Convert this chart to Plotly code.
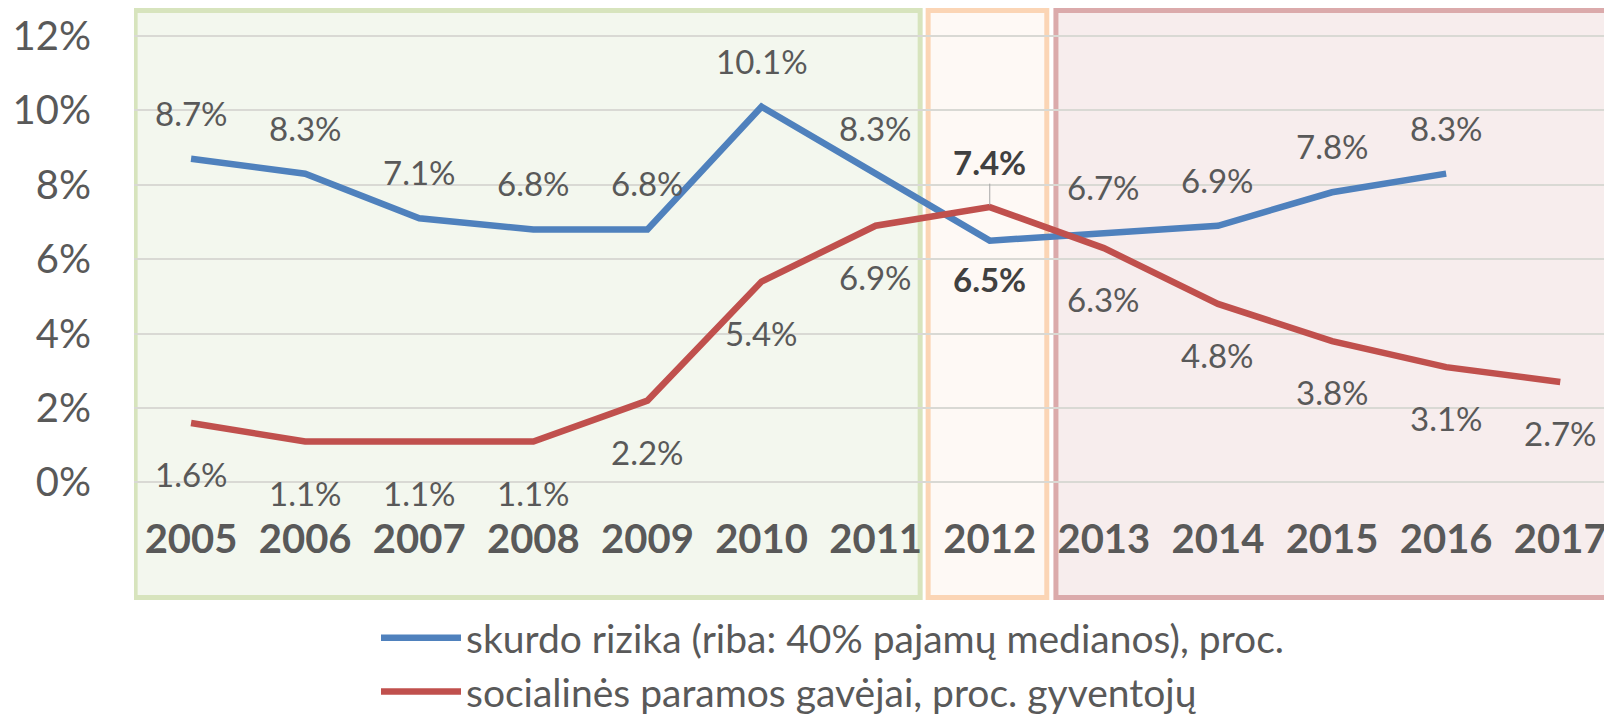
import plotly.graph_objects as go

# ---------------- data ----------------
years = ["2005", "2006", "2007", "2008", "2009", "2010", "2011",
         "2012", "2013", "2014", "2015", "2016", "2017"]
poverty_risk = [8.7, 8.3, 7.1, 6.8, 6.8, 10.1, 8.3, 6.5, 6.7, 6.9, 7.8, 8.3, None]
social_support = [1.6, 1.1, 1.1, 1.1, 2.2, 5.4, 6.9, 7.4, 6.3, 4.8, 3.8, 3.1, 2.7]
series_names = ["skurdo rizika (riba: 40% pajamų medianos), proc.",
                "socialinės paramos gavėjai, proc. gyventojų"]
y_tick_values = [0, 2, 4, 6, 8, 10, 12]
y_tick_labels = ["0%", "2%", "4%", "6%", "8%", "10%", "12%"]
highlight_year = "2012"

# ---------------- styles ----------------
FONT = "Lato"
TEXT = "#595959"
BLUE = "#4F81BD"
RED = "#C0504D"

OFF = 8  # page body margin offset of the rendered figure
W, H = 1612 - OFF, 718 - OFF
M_L, M_R, M_T, M_B = 134 - OFF, 0, 0, 0
plot_w = W - M_L - M_R
plot_h = H - M_T - M_B
px_per_pct = 37.2
zero_px = 482.5 - OFF
grid12_px = 36 - OFF
y_top = 12 + (grid12_px - M_T) / px_per_pct
y_bot = -((H - M_B) - zero_px) / px_per_pct
cat_w = 114.1


def paper_y(px):
    return ((H - M_B) - px) / plot_h


def data_y(px):
    return (zero_px - px) / px_per_pct


fig = go.Figure()
fig.add_trace(go.Scatter(x=years, y=poverty_risk, mode="lines", name=series_names[0],
                         legendgroup="a",
                         line=dict(color=BLUE, width=6.5), hoverinfo="skip"))
fig.add_trace(go.Scatter(x=years, y=social_support, mode="lines", name=series_names[1],
                         legendgroup="b",
                         line=dict(color=RED, width=6.5), hoverinfo="skip"))

# data labels (x given as category index)
ann = []
lab_font = dict(family=FONT, size=33, color=TEXT)
bold_font = dict(family=FONT, size=33, color="#404040", weight="bold")
for i, (yr, v) in enumerate(zip(years, poverty_risk)):
    if v is None:
        continue
    if yr == highlight_year:
        ann.append(dict(x=i, y=v, text=f"{v:.1f}%", showarrow=False, yshift=-38,
                        font=bold_font))
    else:
        ann.append(dict(x=i, y=v, text=f"{v:.1f}%", showarrow=False, yshift=46,
                        font=lab_font))
for i, (yr, v) in enumerate(zip(years, social_support)):
    if yr == highlight_year:
        ann.append(dict(x=i, y=v, text=f"{v:.1f}%", showarrow=True, ax=0, ay=-45,
                        arrowhead=0, arrowwidth=1, arrowcolor="#A6A6A6", standoff=2,
                        font=bold_font))
    else:
        ann.append(dict(x=i, y=v, text=f"{v:.1f}%", showarrow=False, yshift=-51,
                        font=lab_font))

# period boxes (x in category index units)
boxes = [
    (-0.49, 6.39, "#F3F7EE", "#D7E4BD"),
    (6.46, 7.50, "#FEF9F5", "#FBD5B5"),
    (7.58, 12.8, "#F7EDED", "#DBAAAB"),
]
shapes = []
box_top = data_y(10.5 - OFF)
box_bot = data_y(597.5 - OFF)
for x0, x1, fill, border in boxes:
    shapes.append(dict(type="rect", xref="x", yref="y", x0=x0, x1=x1,
                       y0=box_bot, y1=box_top, fillcolor=fill,
                       line=dict(color=border, width=5), layer="below"))

axis_px = 512 - OFF
fig.update_layout(
    width=W, height=H,
    margin=dict(l=M_L, r=M_R, t=M_T, b=M_B, autoexpand=False),
    paper_bgcolor="white", plot_bgcolor="white",
    showlegend=True,
    legend=dict(orientation="v", x=(376 - OFF - M_L) / plot_w, xanchor="left",
                y=paper_y(606 - OFF), yanchor="top", itemwidth=80,
                traceorder="grouped", tracegroupgap=0,
                font=dict(family=FONT, size=39, color=TEXT),
                bgcolor="rgba(0,0,0,0)"),
    xaxis=dict(type="category", range=[-0.5, -0.5 + plot_w / cat_w],
               showgrid=False, zeroline=False, showline=False, ticks="",
               anchor="free", position=paper_y(axis_px), automargin=False,
               tickfont=dict(family=FONT, size=40, color=TEXT, weight="bold")),
    yaxis=dict(range=[y_bot, y_top], tickvals=y_tick_values, ticktext=y_tick_labels,
               showgrid=True, gridcolor="#D9D9D4", gridwidth=1.5, zeroline=False,
               showline=False, ticks="", ticklabelstandoff=42, automargin=False,
               tickfont=dict(family=FONT, size=40, color=TEXT)),
    annotations=ann,
    shapes=shapes,
)

fig.write_html("out.html")
